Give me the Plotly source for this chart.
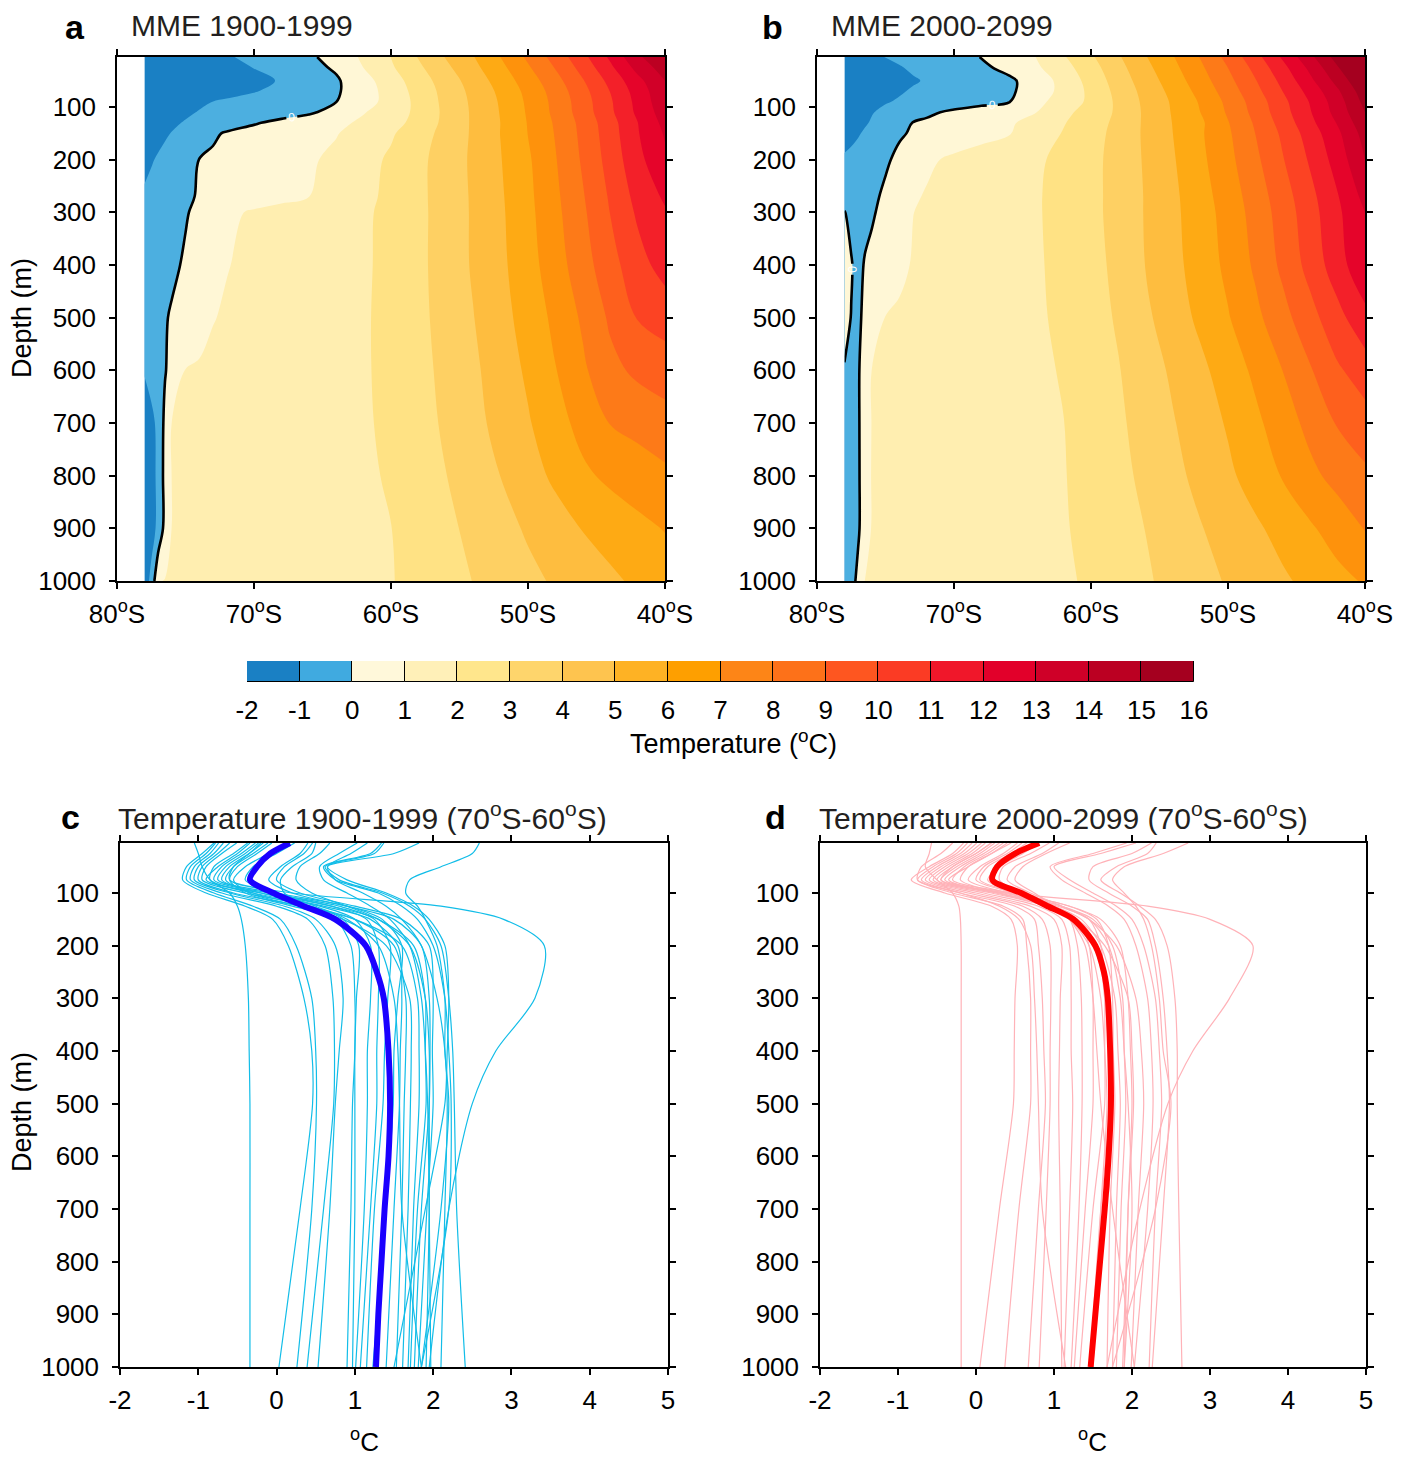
import plotly.graph_objects as go

# ---------------- data: panels a/b (temperature section, degC) ----------------
LAT = [-78, -77.5, -77, -76.5, -76, -75, -74, -73, -72, -70, -68, -66, -64, -62,
       -60, -58, -56, -54, -52, -50, -48, -46, -44, -42, -40]
DEPTH = [5, 25, 50, 70, 90, 110, 130, 150, 200, 270, 300, 400, 500, 600, 700, 800, 900, 1000]

TEMP_1900 = [
    [-1.6, -1.6, -1.6, -1.6, -1.6, -1.55, -1.5, -1.35, -1.1, -0.76, -0.46, -0.16, 0.36, 1.17, 2.01, 3.05, 4.05, 4.95, 6.01, 7.18, 8.38, 9.71, 11.17, 12.83, 13.8],
    [-1.7, -1.7, -1.7, -1.7, -1.7, -1.65, -1.6, -1.5, -1.3, -0.98, -0.65, -0.3, 0.13, 1.01, 1.87, 2.81, 3.8, 4.73, 5.74, 6.88, 8.06, 9.36, 10.79, 12.33, 13.5],
    [-1.8, -1.8, -1.8, -1.8, -1.8, -1.75, -1.7, -1.6, -1.5, -1.2, -0.94, -0.53, -0.12, 0.64, 1.55, 2.5, 3.48, 4.43, 5.42, 6.5, 7.65, 8.93, 10.29, 11.71, 13.0],
    [-1.8, -1.8, -1.8, -1.78, -1.75, -1.65, -1.5, -1.4, -1.25, -1.05, -0.76, -0.44, -0.11, 0.54, 1.41, 2.35, 3.33, 4.27, 5.21, 6.28, 7.41, 8.67, 10.02, 11.43, 12.8],
    [-1.8, -1.75, -1.7, -1.62, -1.55, -1.35, -1.15, -0.99, -0.89, -0.69, -0.46, -0.23, -0.01, 0.61, 1.35, 2.26, 3.27, 4.18, 5.1, 6.17, 7.29, 8.53, 9.87, 11.29, 12.7],
    [-1.8, -1.7, -1.6, -1.5, -1.4, -1.15, -0.95, -0.85, -0.75, -0.54, -0.33, -0.12, 0.29, 0.94, 1.53, 2.21, 3.23, 4.14, 5.05, 6.11, 7.24, 8.47, 9.8, 11.2, 12.5],
    [-1.6, -1.5, -1.4, -1.28, -1.15, -0.93, -0.75, -0.55, -0.35, -0.07, 0.2, 0.45, 0.72, 1.21, 1.67, 2.3, 3.26, 4.13, 5.01, 6.05, 7.12, 8.31, 9.6, 10.98, 12.3],
    [-1.5, -1.38, -1.25, -1.11, -0.97, -0.69, -0.4, -0.11, 0.07, 0.29, 0.51, 0.73, 0.95, 1.38, 1.88, 2.56, 3.32, 4.13, 5.02, 6.02, 7.06, 8.25, 9.53, 10.93, 12.1],
    [-1.3, -1.07, -0.91, -0.75, -0.59, -0.28, 0.01, 0.12, 0.23, 0.45, 0.66, 0.88, 1.2, 1.66, 2.15, 2.76, 3.43, 4.16, 4.96, 5.86, 6.94, 8.13, 9.38, 10.71, 11.8],
    [-0.85, -0.74, -0.6, -0.47, -0.35, -0.12, 0.06, 0.17, 0.29, 0.52, 0.76, 0.99, 1.37, 1.76, 2.22, 2.78, 3.42, 4.12, 4.88, 5.77, 6.8, 7.92, 9.12, 10.32, 11.15],
    [-0.75, -0.63, -0.5, -0.4, -0.3, -0.07, 0.21, 0.5, 0.79, 1.12, 1.31, 1.5, 1.69, 1.88, 2.2, 2.77, 3.41, 4.11, 4.85, 5.73, 6.74, 7.83, 9.02, 10.15, 10.9],
    [-0.6, -0.52, -0.45, -0.33, -0.17, 0.11, 0.4, 0.69, 0.97, 1.17, 1.35, 1.53, 1.71, 1.89, 2.22, 2.78, 3.41, 4.1, 4.79, 5.61, 6.55, 7.58, 8.63, 9.62, 10.4],
    [-0.55, -0.42, -0.28, -0.07, 0.09, 0.38, 0.68, 0.97, 1.08, 1.24, 1.41, 1.58, 1.74, 1.91, 2.24, 2.76, 3.34, 3.97, 4.66, 5.4, 6.23, 7.15, 8.15, 9.05, 9.4],
    [-0.95, -0.7, -0.45, -0.07, 0.36, 1.02, 1.09, 1.16, 1.23, 1.37, 1.5, 1.64, 1.78, 1.92, 2.2, 2.7, 3.24, 3.82, 4.47, 5.16, 5.96, 6.83, 7.73, 8.2, 8.5],
    [-1.4, -1.2, -0.82, 0.25, 1.01, 1.08, 1.14, 1.21, 1.27, 1.4, 1.53, 1.65, 1.78, 1.91, 2.15, 2.63, 3.14, 3.71, 4.3, 4.91, 5.61, 6.33, 7.03, 7.31, 7.6],
    [-1.5, -1.3, -0.82, 0.33, 1.02, 1.08, 1.14, 1.21, 1.27, 1.4, 1.52, 1.64, 1.77, 1.89, 2.07, 2.52, 2.98, 3.49, 4.01, 4.59, 5.19, 5.81, 6.21, 6.5, 6.8],
    [-1.5, -1.3, -0.82, 0.33, 1.02, 1.08, 1.14, 1.2, 1.26, 1.39, 1.51, 1.63, 1.75, 1.87, 1.99, 2.39, 2.8, 3.22, 3.67, 4.12, 4.58, 5.04, 5.39, 5.75, 6.05],
    [-1.4, -0.8, 0.95, 1.03, 1.06, 1.11, 1.17, 1.23, 1.28, 1.4, 1.51, 1.62, 1.73, 1.85, 1.96, 2.25, 2.63, 3.02, 3.39, 3.76, 4.12, 4.47, 4.82, 5.17, 5.5],
]

TEMP_2000 = [
    [-1.5, -1.5, -1.45, -1.35, -1.2, -0.98, -0.86, -0.71, -0.57, -0.29, 0.02, 0.5, 1.01, 1.91, 2.86, 3.89, 4.95, 5.95, 7.06, 8.31, 9.64, 11.15, 12.75, 14.42, 16.2],
    [-1.6, -1.6, -1.55, -1.45, -1.35, -1.2, -1.05, -0.9, -0.75, -0.46, -0.17, 0.24, 0.85, 1.63, 2.61, 3.68, 4.74, 5.75, 6.83, 8.01, 9.29, 10.71, 12.25, 13.92, 15.6],
    [-1.7, -1.7, -1.65, -1.6, -1.5, -1.35, -1.2, -1.07, -0.94, -0.68, -0.42, -0.16, 0.4, 1.36, 2.35, 3.47, 4.5, 5.5, 6.56, 7.71, 8.94, 10.29, 11.77, 13.33, 15.0],
    [-1.7, -1.7, -1.65, -1.55, -1.45, -1.25, -1.07, -0.93, -0.82, -0.59, -0.36, -0.14, 0.4, 1.33, 2.22, 3.32, 4.33, 5.3, 6.33, 7.47, 8.69, 10.01, 11.36, 12.85, 14.6],
    [-1.65, -1.6, -1.5, -1.4, -1.3, -1.05, -0.93, -0.82, -0.71, -0.49, -0.27, -0.05, 0.71, 1.47, 2.2, 3.21, 4.23, 5.14, 6.11, 7.24, 8.44, 9.73, 11.07, 12.54, 14.3],
    [-1.55, -1.45, -1.3, -1.17, -1.04, -0.83, -0.61, -0.39, -0.17, 0.17, 0.44, 0.72, 0.99, 1.74, 2.43, 3.16, 4.18, 5.09, 6.01, 7.12, 8.31, 9.6, 10.93, 12.38, 14.0],
    [-1.45, -1.33, -1.2, -1.08, -0.93, -0.6, -0.27, 0.02, 0.15, 0.39, 0.63, 0.88, 1.31, 1.94, 2.55, 3.24, 4.17, 5.04, 5.83, 6.95, 8.13, 9.4, 10.73, 12.08, 13.7],
    [-1.3, -1.2, -1.07, -0.9, -0.74, -0.42, -0.1, 0.09, 0.21, 0.45, 0.7, 0.94, 1.45, 2.06, 2.63, 3.3, 4.17, 5.01, 5.87, 6.85, 8.01, 9.19, 10.47, 11.8, 13.4],
    [-0.9, -0.8, -0.67, -0.53, -0.4, -0.12, 0.19, 0.52, 0.84, 1.17, 1.41, 1.64, 1.87, 2.22, 2.72, 3.35, 4.12, 4.92, 5.78, 6.71, 7.78, 8.94, 10.13, 11.43, 13.0],
    [-0.35, -0.4, -0.38, -0.3, -0.18, 0.15, 0.52, 0.89, 1.07, 1.28, 1.49, 1.71, 1.92, 2.28, 2.74, 3.33, 4.07, 4.81, 5.6, 6.48, 7.47, 8.56, 9.71, 10.94, 12.3],
    [0.03, -0.2, -0.3, -0.25, -0.1, 0.26, 0.63, 0.99, 1.1, 1.31, 1.51, 1.71, 1.92, 2.28, 2.74, 3.33, 4.07, 4.79, 5.54, 6.38, 7.37, 8.44, 9.59, 10.81, 12.0],
    [0.3, 0.05, -0.25, 0.07, 0.22, 0.53, 0.84, 1.05, 1.14, 1.33, 1.52, 1.71, 1.9, 2.23, 2.68, 3.24, 4.03, 4.72, 5.44, 6.23, 7.16, 8.22, 9.35, 10.56, 11.8],
    [0.22, -0.02, -0.2, 0.24, 0.53, 1.02, 1.1, 1.18, 1.25, 1.41, 1.57, 1.73, 1.89, 2.15, 2.61, 3.11, 3.82, 4.52, 5.21, 5.93, 6.75, 7.67, 8.65, 9.68, 10.7],
    [-0.04, -0.4, -0.1, 0.44, 1.01, 1.07, 1.14, 1.22, 1.29, 1.43, 1.58, 1.72, 1.87, 2.05, 2.5, 2.95, 3.55, 4.16, 4.78, 5.46, 6.2, 7.01, 7.91, 8.86, 9.5],
    [-0.5, -0.5, -0.15, 0.64, 1.02, 1.09, 1.16, 1.23, 1.3, 1.43, 1.57, 1.71, 1.85, 1.99, 2.4, 2.84, 3.37, 3.94, 4.51, 5.1, 5.79, 6.52, 7.29, 8.08, 8.6],
    [-0.6, -0.55, -0.2, 0.75, 1.03, 1.09, 1.16, 1.23, 1.29, 1.43, 1.56, 1.69, 1.83, 1.96, 2.3, 2.74, 3.21, 3.74, 4.27, 4.81, 5.42, 6.07, 6.76, 7.32, 7.8],
    [-0.6, -0.55, -0.2, 0.75, 1.03, 1.09, 1.16, 1.22, 1.29, 1.42, 1.55, 1.68, 1.81, 1.94, 2.2, 2.61, 3.02, 3.49, 3.95, 4.4, 4.84, 5.34, 5.87, 6.45, 7.05],
    [-0.9, -0.5, 0.33, 1.02, 1.06, 1.12, 1.18, 1.24, 1.3, 1.42, 1.54, 1.66, 1.78, 1.9, 2.1, 2.49, 2.88, 3.29, 3.69, 4.09, 4.47, 4.85, 5.26, 5.7, 6.1],
]

LEVELS = list(range(-2, 17))
LEVEL_TEXT = ['-2', '-1', '0', '1', '2', '3', '4', '5', '6', '7', '8', '9', '10',
              '11', '12', '13', '14', '15', '16']
LEVEL_COLORS = ['#1a80c4', '#40aae0', '#fff8da', '#fff0b8', '#ffe68c', '#fed56c',
                '#fec44f', '#feb224', '#fe9f00', '#fd8517', '#fd7119', '#fe5620',
                '#fb3b24', '#f0172a', '#e2002a', '#cf0028', '#bb0022', '#a5001f']

LAT_TICKS = [-80, -70, -60, -50, -40]
LAT_TICK_TEXT = ['80<sup>o</sup>S', '70<sup>o</sup>S', '60<sup>o</sup>S', '50<sup>o</sup>S', '40<sup>o</sup>S']
DEPTH_TICKS = [100, 200, 300, 400, 500, 600, 700, 800, 900, 1000]
TEMP_TICKS = [-2, -1, 0, 1, 2, 3, 4, 5]
TEMP_TICK_TEXT = ['-2', '-1', '0', '1', '2', '3', '4', '5']

# ---------------- data: panels c/d (70S-60S profiles, degC) ----------------
LINE_DEPTH = [5, 25, 50, 75, 100, 125, 150, 200, 300, 400, 500, 700, 1000]
MODELS_1900 = [
    [-1.05, -1.0, -0.95, -0.85, -0.6, -0.5, -0.45, -0.4, -0.36, -0.35, -0.34, -0.34, -0.34],
    [-0.8, -0.95, -1.15, -1.2, -0.9, -0.4, -0.05, 0.15, 0.35, 0.45, 0.46, 0.3, 0.03],
    [-0.78, -0.9, -1.1, -1.15, -0.8, -0.3, 0.05, 0.25, 0.45, 0.5, 0.51, 0.45, 0.26],
    [-0.74, -0.85, -1.05, -1.1, -0.7, 0.0, 0.4, 0.62, 0.72, 0.74, 0.73, 0.6, 0.39],
    [-0.68, -0.8, -1.0, -1.05, -0.6, 0.1, 0.5, 0.75, 0.85, 0.8, 0.75, 0.68, 0.53],
    [-0.6, -0.75, -0.95, -1.0, -0.55, 0.3, 0.75, 0.95, 1.0, 1.0, 0.97, 0.95, 0.9],
    [-0.51, -0.7, -0.9, -0.95, -0.4, 0.45, 0.85, 1.05, 1.02, 1.0, 1.0, 1.0, 0.97],
    [-0.37, -0.55, -0.8, -0.85, -0.3, 0.55, 1.0, 1.2, 1.2, 1.16, 1.16, 1.12, 1.01],
    [-0.34, -0.5, -0.75, -0.9, -0.2, 0.7, 1.15, 1.3, 1.3, 1.28, 1.28, 1.2, 1.07],
    [-0.27, -0.45, -0.7, -0.8, -0.1, 0.8, 1.25, 1.45, 1.42, 1.38, 1.36, 1.25, 1.15],
    [-0.23, -0.4, -0.65, -0.75, 0.0, 0.9, 1.35, 1.6, 1.55, 1.5, 1.49, 1.4, 1.23],
    [-0.17, -0.35, -0.6, -0.7, -0.2, 0.6, 1.2, 1.55, 1.6, 1.58, 1.57, 1.5, 1.4],
    [-0.11, -0.3, -0.55, -0.65, -0.3, 0.4, 1.0, 1.5, 1.65, 1.65, 1.63, 1.6, 1.53],
    [-0.06, -0.25, -0.5, -0.6, -0.4, 0.2, 0.85, 1.4, 1.7, 1.72, 1.71, 1.68, 1.61],
    [0.12, -0.1, -0.4, -0.55, -0.35, 0.3, 1.0, 1.6, 1.8, 1.82, 1.82, 1.75, 1.68],
    [0.23, 0.0, -0.3, -0.4, 0.0, 0.7, 1.3, 1.75, 1.9, 1.9, 1.91, 1.8, 1.71],
    [0.4, 0.3, 0.05, -0.1, 0.2, 0.9, 1.5, 1.85, 1.95, 1.96, 1.95, 1.85, 1.76],
    [0.46, 0.35, 0.1, 0.0, 0.3, 1.0, 1.6, 1.95, 2.0, 1.99, 2.0, 1.92, 1.81],
    [0.5, 0.45, 0.2, 0.05, 0.1, 0.5, 0.9, 1.3, 1.5, 1.55, 1.57, 1.6, 1.85],
    [0.68, 0.55, 0.3, 0.25, 0.45, 0.9, 1.3, 1.7, 1.9, 1.95, 1.95, 1.95, 1.91],
    [1.03, 0.8, 0.55, 0.6, 0.9, 1.2, 1.45, 1.7, 1.85, 1.9, 1.93, 1.95, 1.97],
    [1.16, 0.95, 0.65, 0.75, 1.1, 1.4, 1.6, 1.85, 2.05, 2.15, 2.18, 2.15, 2.1],
    [1.34, 1.2, 0.6, 0.75, 1.3, 1.6, 1.8, 2.0, 2.15, 2.2, 2.23, 2.2, 1.85],
    [1.37, 1.25, 0.62, 0.8, 1.35, 1.7, 1.9, 2.1, 2.2, 2.25, 2.27, 2.3, 2.41],
    [1.82, 1.5, 0.65, 0.9, 1.4, 1.75, 1.95, 2.15, 2.2, 2.18, 2.15, 1.9, 1.5],
    [2.59, 2.5, 2.1, 1.7, 1.65, 1.8, 1.9, 2.05, 2.15, 2.15, 2.2, 2.1, 1.85],
    [-0.2, -0.35, -0.55, -0.6, 0.2, 2.1, 2.9, 3.42, 3.3, 2.8, 2.5, 2.2, 1.95],
]
MODELS_2000 = [
    [-0.57, -0.6, -0.65, -0.5, -0.3, -0.22, -0.2, -0.19, -0.19, -0.19, -0.19, -0.19, -0.19],
    [-0.16, -0.3, -0.6, -0.83, -0.4, 0.2, 0.45, 0.53, 0.5, 0.49, 0.48, 0.3, 0.05],
    [-0.11, -0.25, -0.55, -0.75, -0.3, 0.35, 0.6, 0.65, 0.7, 0.7, 0.7, 0.55, 0.37],
    [-0.05, -0.2, -0.5, -0.7, -0.2, 0.5, 0.75, 0.8, 0.85, 0.87, 0.89, 0.8, 0.67],
    [0.01, -0.15, -0.45, -0.65, -0.1, 0.6, 0.85, 0.95, 0.96, 0.95, 0.95, 0.9, 0.81],
    [0.07, -0.1, -0.4, -0.6, 0.0, 0.7, 1.0, 1.1, 1.08, 1.07, 1.06, 1.08, 1.1],
    [0.12, -0.05, -0.35, -0.55, 0.1, 0.8, 1.1, 1.2, 1.22, 1.22, 1.24, 1.2, 1.13],
    [0.19, 0.0, -0.3, -0.5, 0.2, 0.9, 1.2, 1.3, 1.35, 1.36, 1.36, 1.32, 1.22],
    [0.24, 0.05, -0.25, -0.45, 0.3, 1.0, 1.3, 1.45, 1.5, 1.5, 1.5, 1.4, 1.26],
    [0.3, 0.1, -0.2, -0.4, 0.35, 1.1, 1.45, 1.6, 1.65, 1.65, 1.65, 1.5, 1.33],
    [0.35, 0.15, -0.15, -0.3, 0.45, 1.2, 1.55, 1.7, 1.75, 1.76, 1.78, 1.72, 1.68],
    [0.53, 0.35, 0.05, -0.1, 0.4, 1.0, 1.35, 1.6, 1.78, 1.82, 1.85, 1.8, 1.75],
    [0.59, 0.4, 0.1, 0.0, 0.5, 1.1, 1.5, 1.75, 1.88, 1.9, 1.92, 1.86, 1.8],
    [0.94, 0.7, 0.35, 0.3, 0.6, 1.0, 1.3, 1.65, 1.95, 2.0, 2.02, 1.95, 1.88],
    [1.06, 0.85, 0.5, 0.4, 0.7, 1.1, 1.45, 1.8, 2.05, 2.12, 2.15, 2.08, 1.99],
    [1.93, 1.5, 0.95, 1.1, 1.4, 1.7, 1.9, 2.05, 2.2, 2.25, 2.27, 2.2, 2.03],
    [2.05, 1.6, 1.0, 1.2, 1.5, 1.8, 2.0, 2.15, 2.3, 2.35, 2.38, 2.3, 2.22],
    [2.25, 2.0, 1.5, 1.45, 1.7, 2.0, 2.2, 2.3, 2.4, 2.45, 2.48, 2.4, 2.26],
    [2.31, 2.2, 1.8, 1.6, 1.85, 2.1, 2.3, 2.45, 2.55, 2.58, 2.58, 2.6, 2.64],
    [2.72, 2.4, 1.9, 1.75, 1.9, 2.05, 2.15, 2.25, 2.35, 2.4, 2.5, 2.3, 1.75],
    [0.2, 0.0, -0.3, -0.45, 0.4, 2.2, 3.0, 3.55, 3.25, 2.78, 2.46, 2.1, 1.68],
    [0.45, 0.2, -0.1, -0.2, 0.3, 0.9, 1.3, 1.55, 1.65, 1.7, 1.72, 1.6, 1.46],
    [0.65, 0.45, 0.15, 0.05, 0.55, 1.2, 1.6, 1.85, 1.95, 1.98, 2.0, 1.95, 1.9],
    [-0.3, -0.45, -0.7, -0.75, -0.2, 0.3, 0.55, 0.7, 0.75, 0.78, 0.8, 0.85, 1.15],
    [0.8, 0.6, 0.3, 0.15, 0.45, 0.9, 1.2, 1.45, 1.6, 1.65, 1.68, 1.6, 1.5],
    [1.2, 0.9, 0.6, 0.5, 0.75, 1.0, 1.2, 1.4, 1.5, 1.55, 1.6, 1.75, 2.03],
    [0.4, 0.2, -0.1, -0.35, 0.25, 1.05, 1.45, 1.7, 1.85, 1.9, 1.95, 2.0, 1.9],
]
MEAN_DEPTH = [5, 25, 50, 75, 100, 125, 150, 200, 250, 300, 400, 500, 600, 700, 800, 900, 1000]
MEAN_1900 = [0.17, -0.08, -0.25, -0.34, -0.04, 0.35, 0.75, 1.14, 1.28, 1.37, 1.43, 1.45, 1.43, 1.38, 1.34, 1.30, 1.27]
MEAN_2000 = [0.81, 0.5, 0.27, 0.21, 0.58, 0.92, 1.25, 1.53, 1.64, 1.69, 1.72, 1.73, 1.70, 1.65, 1.59, 1.53, 1.47]

# ---------------- figure ----------------
FONT = 'Liberation Sans, Arial, Helvetica, sans-serif'
W, H = 1416, 1458

def px_x(p):
    return p / W

def px_y(p):
    return 1 - p / H

fig = go.Figure()

n_bands = len(LEVEL_COLORS)
fill_scale = [[i / (n_bands - 1), c] for i, c in enumerate(LEVEL_COLORS)]

for k, z in enumerate([TEMP_1900, TEMP_2000]):
    xa = 'x' if k == 0 else 'x2'
    ya = 'y' if k == 0 else 'y2'
    fig.add_trace(go.Contour(
        x=LAT, y=DEPTH, z=z, xaxis=xa, yaxis=ya,
        autocontour=False,
        contours=dict(start=LEVELS[1], end=LEVELS[-3], size=1, coloring='fill', showlines=False),
        colorscale=fill_scale, showscale=False,
        line=dict(width=0, smoothing=1),
        hoverinfo='skip'))
    fig.add_trace(go.Contour(
        x=LAT, y=DEPTH, z=z, xaxis=xa, yaxis=ya,
        autocontour=False,
        contours=dict(start=0, end=0, size=1, coloring='none', showlabels=True,
                      labelfont=dict(family=FONT, size=12, color='white')),
        line=dict(color='black', width=2.6, smoothing=1),
        showscale=False, hoverinfo='skip'))

for k, (models, mean, mcol, mean_col) in enumerate([
        (MODELS_1900, MEAN_1900, '#12bde8', '#1a00ff'),
        (MODELS_2000, MEAN_2000, '#ffb2b8', '#ff0000')]):
    xa = 'x3' if k == 0 else 'x4'
    ya = 'y3' if k == 0 else 'y4'
    for prof in models:
        fig.add_trace(go.Scatter(
            x=prof, y=LINE_DEPTH, xaxis=xa, yaxis=ya, mode='lines',
            line=dict(color=mcol, width=1.2, shape='spline', smoothing=0.8),
            hoverinfo='skip'))
    fig.add_trace(go.Scatter(
        x=mean, y=MEAN_DEPTH, xaxis=xa, yaxis=ya, mode='lines',
        line=dict(color=mean_col, width=6, shape='spline', smoothing=0.8),
        hoverinfo='skip'))

# colour key drawn as a row of outlined boxes
centers = [(LEVELS[i] + LEVELS[i + 1]) / 2 for i in range(len(LEVELS) - 1)]
fig.add_trace(go.Bar(
    x=centers, y=[1] * len(centers), width=[1] * len(centers),
    xaxis='x5', yaxis='y5',
    marker=dict(color=LEVEL_COLORS, line=dict(color='black', width=1)),
    hoverinfo='skip'))

tickfont = dict(family=FONT, size=26, color='black')
common = dict(showline=True, linecolor='black', linewidth=1.5, mirror='ticks',
              ticks='outside', ticklen=6, tickwidth=1.5, tickcolor='black',
              showgrid=False, zeroline=False, tickfont=tickfont, automargin=False)

top_dom = [px_y(581), px_y(57)]
bot_dom = [px_y(1367), px_y(843)]

layout = dict(
    width=W, height=H, margin=dict(l=0, r=0, t=0, b=0, pad=0, autoexpand=False),
    paper_bgcolor='white', plot_bgcolor='white', showlegend=False,
    bargap=0,
    xaxis=dict(domain=[px_x(117), px_x(665)], range=[-80, -40], tickvals=LAT_TICKS,
               ticktext=LAT_TICK_TEXT, anchor='y', ticklabelstandoff=3, **common),
    yaxis=dict(domain=top_dom, range=[1000, 5], tickvals=DEPTH_TICKS, anchor='x',
               ticklabelstandoff=8, **common),
    xaxis2=dict(domain=[px_x(817), px_x(1365)], range=[-80, -40], tickvals=LAT_TICKS,
                ticktext=LAT_TICK_TEXT, anchor='y2', ticklabelstandoff=3, **common),
    yaxis2=dict(domain=top_dom, range=[1000, 5], tickvals=DEPTH_TICKS, anchor='x2',
                ticklabelstandoff=8, **common),
    xaxis3=dict(domain=[px_x(120), px_x(668)], range=[-2, 5], tickvals=TEMP_TICKS,
                ticktext=TEMP_TICK_TEXT, anchor='y3', ticklabelstandoff=3, **common),
    yaxis3=dict(domain=bot_dom, range=[1000, 5], tickvals=DEPTH_TICKS, anchor='x3',
                ticklabelstandoff=8, **common),
    xaxis4=dict(domain=[px_x(820), px_x(1366)], range=[-2, 5], tickvals=TEMP_TICKS,
                ticktext=TEMP_TICK_TEXT, anchor='y4', ticklabelstandoff=3, **common),
    yaxis4=dict(domain=bot_dom, range=[1000, 5], tickvals=DEPTH_TICKS, anchor='x4',
                ticklabelstandoff=8, **common),
    xaxis5=dict(domain=[px_x(247), px_x(1194)], range=[LEVELS[0], LEVELS[-1]],
                tickvals=LEVELS, ticktext=LEVEL_TEXT, anchor='y5', showline=False,
                showgrid=False, zeroline=False, ticks='', tickfont=tickfont,
                ticklabelstandoff=10, automargin=False),
    yaxis5=dict(domain=[px_y(682), px_y(661)], range=[0, 1], visible=False,
                anchor='x5', automargin=False),
)
fig.update_layout(**layout)

title_col = '#231f20'
ann = []
def add_text(x, y, text, size, bold=False, xanchor='center', angle=0, color='black'):
    t = '<b>' + text + '</b>' if bold else text
    ann.append(dict(x=x, y=y, xref='paper', yref='paper', text=t, showarrow=False,
                    xanchor=xanchor, yanchor='middle', textangle=angle,
                    font=dict(family=FONT, size=size, color=color)))

add_text(px_x(75), px_y(27), 'a', 34, bold=True)
add_text(px_x(129), px_y(26), 'MME 1900-1999', 30, xanchor='left', color=title_col)
add_text(px_x(773), px_y(27), 'b', 34, bold=True)
add_text(px_x(829), px_y(26), 'MME 2000-2099', 30, xanchor='left', color=title_col)
add_text(px_x(70), px_y(817), 'c', 34, bold=True)
add_text(px_x(116), px_y(816), 'Temperature 1900-1999 (70<sup>o</sup>S-60<sup>o</sup>S)', 30,
         xanchor='left', color=title_col)
add_text(px_x(775), px_y(817), 'd', 34, bold=True)
add_text(px_x(817), px_y(816), 'Temperature 2000-2099 (70<sup>o</sup>S-60<sup>o</sup>S)', 30,
         xanchor='left', color=title_col)
add_text(px_x(22), px_y(318), 'Depth (m)', 27, angle=-90)
add_text(px_x(22), px_y(1112), 'Depth (m)', 27, angle=-90)
add_text(px_x(364), px_y(1440), '<sup>o</sup>C', 26)
add_text(px_x(1092), px_y(1440), '<sup>o</sup>C', 26)
add_text(px_x(733), px_y(742), 'Temperature (<sup>o</sup>C)', 27)
fig.update_layout(annotations=ann)

fig.write_html('out.html', config={'displayModeBar': False},
               post_script="document.body.style.margin='0';document.body.style.overflow='hidden';")
